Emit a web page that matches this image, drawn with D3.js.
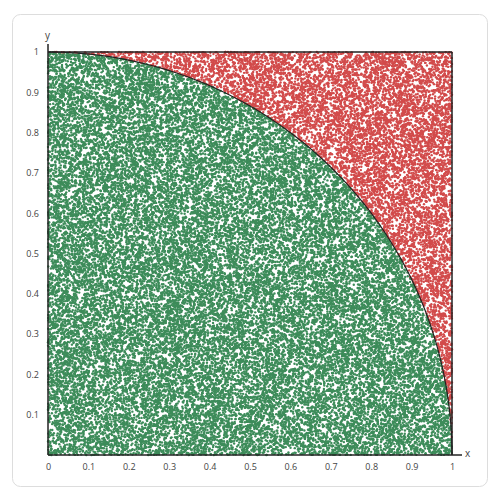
<!DOCTYPE html>
<html><head><meta charset="utf-8">
<script src="https://cdn.jsdelivr.net/npm/d3@7"></script>
<style>body{margin:0;background:#fff;font-family:"Open Sans",sans-serif}</style>
</head><body>
<svg id="c" width="500" height="501"></svg>
<script>
const xTicks = [0,0.1,0.2,0.3,0.4,0.5,0.6,0.7,0.8,0.9,1];
const yTicks = [0.1,0.2,0.3,0.4,0.5,0.6,0.7,0.8,0.9,1];
const categories = ["inside", "outside"];
const colors = ["#3d8c5a", "#d24b4b"];
const sampleCount = 42000;
const seed = 0.31415;

// Monte Carlo sample (the reference shows an unreadable random scatter)
const rng = d3.randomLcg(seed);
const points = [];
for (let i = 0; i < sampleCount; i++) {
  const px = rng(), py = rng();
  points.push({x: px, y: py, c: (px*px + py*py <= 1) ? 0 : 1});
}

const svg = d3.select("#c");
svg.append("rect").attr("x",12.5).attr("y",14.5).attr("width",475).attr("height",472)
  .attr("rx",8).attr("fill","#fff").attr("stroke","#ddd");

const x = d3.scaleLinear().domain([0,1]).range([48,452]);
const y = d3.scaleLinear().domain([0,1]).range([455,52]);

svg.append("g").selectAll("circle").data(points).join("circle")
  .attr("cx", d => x(d.x)).attr("cy", d => y(d.y)).attr("r", 1.2)
  .attr("fill", d => colors[d.c]);

const arcPts = d3.range(0, 91).map(a => [Math.cos(a*Math.PI/180), Math.sin(a*Math.PI/180)]);
svg.append("path").datum(arcPts)
  .attr("d", d3.line().x(d => x(d[0])).y(d => y(d[1])))
  .attr("fill","none").attr("stroke","#222").attr("stroke-width",1.2);

svg.append("line").attr("x1",x(0)).attr("x2",x(1)).attr("y1",y(1)).attr("y2",y(1)).attr("stroke","#222").attr("stroke-width",1.5);
svg.append("line").attr("x1",x(1)).attr("x2",x(1)).attr("y1",y(1)).attr("y2",y(0)).attr("stroke","#222").attr("stroke-width",1.5);

const xa = svg.append("g").attr("transform",`translate(0,${y(0)})`)
  .call(d3.axisBottom(x).tickValues(xTicks).tickFormat(d3.format("~g")).tickSize(0).tickPadding(9));
const ya = svg.append("g").attr("transform",`translate(${x(0)},0)`)
  .call(d3.axisLeft(y).tickValues(yTicks).tickFormat(d3.format("~g")).tickSize(0).tickPadding(9));
[xa, ya].forEach(g => {
  g.select(".domain").attr("stroke","#222").attr("stroke-width",1.5);
  g.selectAll("text").attr("font-size",9).attr("fill","#444").attr("font-family","Open Sans");
});
xa.select(".domain").attr("d", `M${x(0)},0H${x(1)+10}`);
ya.select(".domain").attr("d", `M0,${y(0)}V${y(1)-8}`);
svg.append("text").attr("x", x(1)+13).attr("y", y(0)+2).text("x").attr("font-size",10).attr("fill","#444");
svg.append("text").attr("x", x(0)-3).attr("y", y(1)-13).text("y").attr("font-size",10).attr("fill","#444");
</script>
</body></html>
